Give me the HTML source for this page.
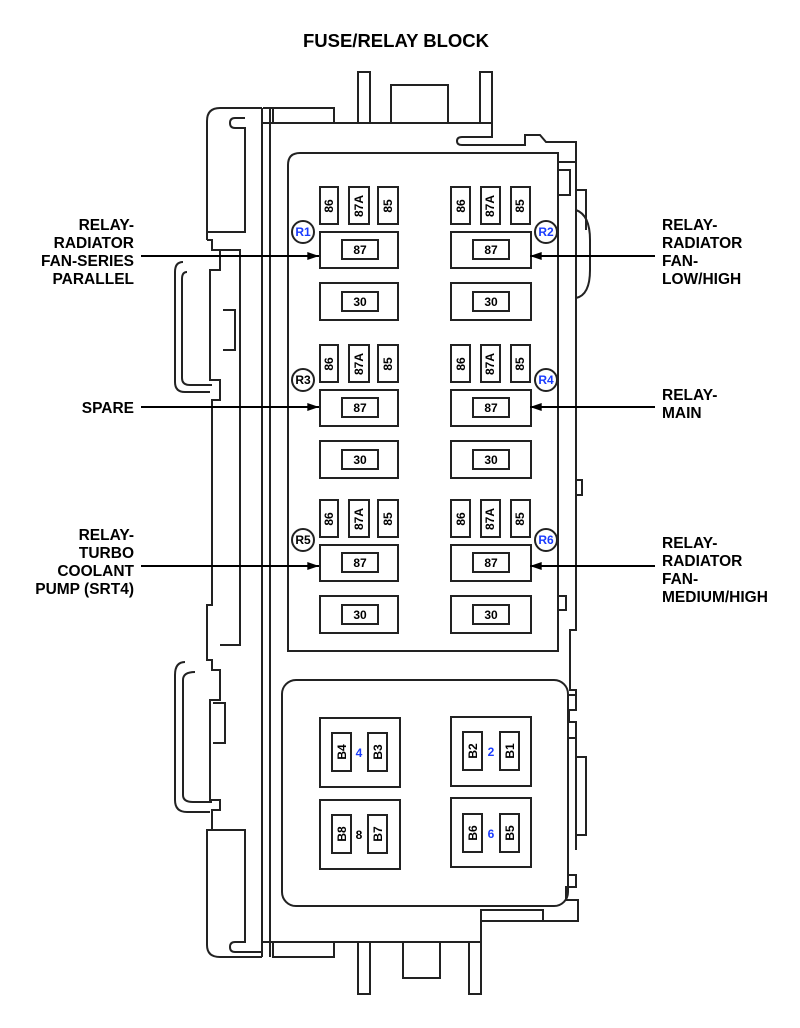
<!DOCTYPE html>
<html><head><style>
body{margin:0;background:#fff}
svg{display:block}
text{font-family:"Liberation Sans",Arial,sans-serif;font-weight:bold}
</style></head><body>
<svg width="800" height="1028" viewBox="0 0 800 1028" xmlns="http://www.w3.org/2000/svg">
<defs>
<marker id="ah" viewBox="0 0 13 10" refX="13" refY="5" markerWidth="13" markerHeight="9" orient="auto" markerUnits="userSpaceOnUse"><path d="M0,0.5 L13,5 L0,9.5 z" fill="#000"/></marker>
</defs>
<text x="396" y="47" font-size="18.5" text-anchor="middle">FUSE/RELAY BLOCK</text>
<g fill="none" stroke="#222" stroke-width="2">
<path d="M358,123 V72 H370 V123"/><path d="M480,123 V72 H492 V123"/>
<path d="M391,123 V85 H448 V123"/>
<path d="M263,123 H492 V137 H462 Q457,137 457,141 Q457,145 462,145 H525 V135 H540 L546,142 H576 V162 H558"/>
<path d="M273,123 V108 H334 V123"/>
<path d="M263,108 H273"/>
<path d="M262,108 V957"/><path d="M270,108 V957"/>
<path d="M262,108 H220 Q207,108 207,121 V240"/>
<path d="M245,118 H235 Q230,118 230,123 Q230,128 235,128 H245 V232 H207"/>
<path d="M207,240 H212 V250 H220 V270 H210 V380 H220 V400 H212 V605 H207 V660 H212 V670 H220 V700 H210 V800 H220 V810 H212 V830 H207 V945 Q207,957 220,957 H262"/>
<path d="M220,250 H240 V645 H220"/><path d="M223,310 H235 V350 H223"/>
<path d="M183,262 Q175,262 175,272 V382 Q175,392 185,392 H210"/>
<path d="M187,272 Q182,272 182,279 V378 Q182,385 190,385 H212"/>
<path d="M207,830 H245 V942 H235 Q230,942 230,947 Q230,952 235,952 H262"/>
<path d="M213,703 H225 V743 H213"/>
<path d="M185,662 Q175,662 175,675 V800 Q175,812 187,812 H210"/>
<path d="M195,672 Q183,672 183,680 V795 Q183,802 193,802 H212"/>
<path d="M576,162 V190 H586 V230 M576,162 V258"/>
<path d="M558,170 H570 V195 H558"/>
<path d="M576,210 Q590,215 590,240 V270 Q590,295 576,298"/>
<path d="M576,258 V630 H570 V690 H576 V695"/>
<path d="M558,596 H566 V610 H558"/>
<path d="M576,480 H582 V495 H576"/>
<path d="M568,695 H576 V710 H569 V722 H576 V738 H568 V875 H576 V887 H566 V900 H578 V921 H481 V942 H263"/>
<path d="M576,738 V850 M576,757 H586 V835 H576"/>
<path d="M481,921 V910 H543 V921"/>
<path d="M273,942 V957 H334 V942"/>
<path d="M358,942 V994 H370 V942"/><path d="M469,942 V994 H481 V942"/>
<path d="M403,942 V978 H440 V942"/>
<path d="M288,651 V165 Q288,153 300,153 H558 V651 Z"/>
<rect x="282" y="680" width="286" height="226" rx="14"/>
</g>
<g fill="#fff" stroke="#222" stroke-width="2">
<g id="row">
<rect x="320" y="187" width="18" height="37"/><rect x="349" y="187" width="20" height="37"/><rect x="378" y="187" width="20" height="37"/>
<rect x="320" y="232" width="78" height="36"/><rect x="342" y="240" width="36" height="19"/>
<rect x="320" y="283" width="78" height="37"/><rect x="342" y="292" width="36" height="19"/>
<rect x="451" y="187" width="19" height="37"/><rect x="481" y="187" width="19" height="37"/><rect x="511" y="187" width="19" height="37"/>
<rect x="451" y="232" width="80" height="36"/><rect x="473" y="240" width="36" height="19"/>
<rect x="451" y="283" width="80" height="37"/><rect x="473" y="292" width="36" height="19"/>
</g>
<use href="#row" y="158"/><use href="#row" y="313"/>
<rect x="320" y="718" width="80" height="69"/><rect x="332" y="733" width="19" height="38"/><rect x="368" y="733" width="19" height="38"/>
<rect x="320" y="800" width="80" height="69"/><rect x="332" y="815" width="19" height="38"/><rect x="368" y="815" width="19" height="38"/>
<rect x="451" y="717" width="80" height="69"/><rect x="463" y="732" width="19" height="38"/><rect x="500" y="732" width="19" height="38"/>
<rect x="451" y="798" width="80" height="69"/><rect x="463" y="814" width="19" height="38"/><rect x="500" y="814" width="19" height="38"/>
<circle cx="303" cy="232" r="11"/><circle cx="546" cy="232" r="11"/>
<circle cx="303" cy="380" r="11"/><circle cx="546" cy="380" r="11"/>
<circle cx="303" cy="540" r="11"/><circle cx="546" cy="540" r="11"/>
</g>
<g font-size="12" text-anchor="middle">
<g id="rt">
<text transform="translate(333,206) rotate(-90)">86</text>
<text transform="translate(363,206) rotate(-90)">87A</text>
<text transform="translate(392,206) rotate(-90)">85</text>
<text transform="translate(465,206) rotate(-90)">86</text>
<text transform="translate(494,206) rotate(-90)">87A</text>
<text transform="translate(524,206) rotate(-90)">85</text>
<text x="360" y="254">87</text><text x="491" y="254">87</text>
<text x="360" y="306">30</text><text x="491" y="306">30</text>
</g>
<use href="#rt" y="158"/><use href="#rt" y="313"/>
<text transform="translate(346,752) rotate(-90)">B4</text><text transform="translate(382,752) rotate(-90)">B3</text>
<text transform="translate(346,834) rotate(-90)">B8</text><text transform="translate(382,834) rotate(-90)">B7</text>
<text transform="translate(477,751) rotate(-90)">B2</text><text transform="translate(514,751) rotate(-90)">B1</text>
<text transform="translate(477,833) rotate(-90)">B6</text><text transform="translate(514,833) rotate(-90)">B5</text>
<text x="359" y="757" fill="#1a3cff">4</text><text x="359" y="839">8</text>
<text x="491" y="756" fill="#1a3cff">2</text><text x="491" y="838" fill="#1a3cff">6</text>
<text x="303" y="236" fill="#1a3cff">R1</text><text x="546" y="236" fill="#1a3cff">R2</text>
<text x="303" y="384">R3</text><text x="546" y="384" fill="#1a3cff">R4</text>
<text x="303" y="544">R5</text><text x="546" y="544" fill="#1a3cff">R6</text>
</g>
<g stroke="#000" stroke-width="2">
<line x1="141" y1="256" x2="319" y2="256" marker-end="url(#ah)"/>
<line x1="655" y1="256" x2="530" y2="256" marker-end="url(#ah)"/>
<line x1="141" y1="407" x2="319" y2="407" marker-end="url(#ah)"/>
<line x1="655" y1="407" x2="530" y2="407" marker-end="url(#ah)"/>
<line x1="141" y1="566" x2="319" y2="566" marker-end="url(#ah)"/>
<line x1="655" y1="566" x2="530" y2="566" marker-end="url(#ah)"/>
</g>
<g font-size="15.5" text-anchor="end">
<text x="134" y="230">RELAY-</text><text x="134" y="248">RADIATOR</text><text x="134" y="266">FAN-SERIES</text><text x="134" y="284">PARALLEL</text>
<text x="134" y="413">SPARE</text>
<text x="134" y="540">RELAY-</text><text x="134" y="558">TURBO</text><text x="134" y="576">COOLANT</text><text x="134" y="594">PUMP (SRT4)</text>
</g>
<g font-size="15.5" text-anchor="start">
<text x="662" y="230">RELAY-</text><text x="662" y="248">RADIATOR</text><text x="662" y="266">FAN-</text><text x="662" y="284">LOW/HIGH</text>
<text x="662" y="400">RELAY-</text><text x="662" y="418">MAIN</text>
<text x="662" y="548">RELAY-</text><text x="662" y="566">RADIATOR</text><text x="662" y="584">FAN-</text><text x="662" y="602">MEDIUM/HIGH</text>
</g>
</svg>
</body></html>
